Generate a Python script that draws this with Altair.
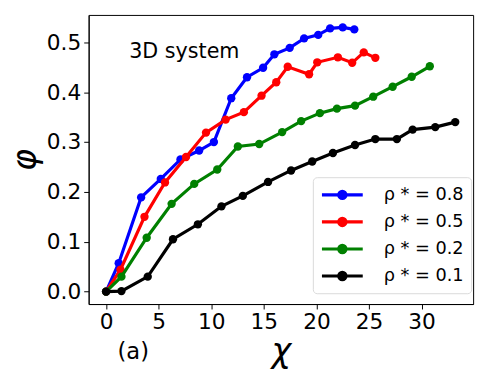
import altair as alt
import pandas as pd

labels = ["ρ * = 0.8", "ρ * = 0.5", "ρ * = 0.2", "ρ * = 0.1"]
colors = ["#0000ff", "#ff0000", "#008000", "#000000"]

blue_x = [0, 1.2, 3.33, 5.2, 7.07, 8.85, 10.25, 11.9, 13.4, 14.93, 16.0, 17.46, 18.83, 20.17, 21.3, 22.5, 23.6]
blue_y = [0, 0.057, 0.189, 0.226, 0.265, 0.283, 0.300, 0.388, 0.430, 0.449, 0.476, 0.489, 0.508, 0.515, 0.528, 0.530, 0.526]

red_x = [0, 1.37, 3.65, 5.6, 7.6, 9.5, 11.37, 13.1, 14.78, 16.18, 17.27, 19.3, 20.08, 22.04, 23.4, 24.5, 25.6]
red_y = [0, 0.044, 0.150, 0.219, 0.270, 0.319, 0.345, 0.360, 0.393, 0.420, 0.451, 0.436, 0.460, 0.470, 0.459, 0.480, 0.469]

green_x = [0, 1.46, 3.86, 6.23, 8.38, 10.57, 12.53, 14.56, 16.74, 18.55, 20.33, 21.95, 23.67, 25.4, 27.25, 29.06, 30.78]
green_y = [0, 0.030, 0.108, 0.176, 0.216, 0.245, 0.291, 0.296, 0.320, 0.342, 0.358, 0.367, 0.373, 0.391, 0.411, 0.431, 0.452]

black_x = [0, 1.46, 3.96, 6.36, 8.73, 10.97, 13.0, 15.4, 17.59, 19.6, 21.57, 23.67, 25.6, 27.65, 29.15, 31.3, 33.2]
black_y = [0, 0.001, 0.030, 0.105, 0.135, 0.171, 0.192, 0.220, 0.243, 0.261, 0.278, 0.294, 0.306, 0.306, 0.325, 0.330, 0.340]

xs = [blue_x, red_x, green_x, black_x]
ys = [blue_y, red_y, green_y, black_y]

x_ticks = [0, 5, 10, 15, 20, 25, 30]
y_ticks = [0.0, 0.1, 0.2, 0.3, 0.4, 0.5]

FONT = "DejaVu Sans"

x_scale = alt.Scale(domain=[-1.66, 34.9], nice=False, zero=False)
y_scale = alt.Scale(domain=[-0.025, 0.555], nice=False, zero=False)
color_scale = alt.Scale(domain=labels, range=colors)

legend_path = "M-2.25,0L2.25,0M-0.4,0A0.4,0.4 0 1,0 0.4,0A0.4,0.4 0 1,0 -0.4,0Z"

x_axis = alt.Axis(values=x_ticks, title="χ", grid=False, labelFontSize=22, labelFont=FONT,
                  titleFont=FONT, titleFontSize=34, titleFontStyle="italic", titleFontWeight="normal",
                  labelColor="black", titleColor="black", domainColor="black", tickColor="black",
                  tickSize=5, labelPadding=3, titlePadding=2, labelFlush=False)
y_axis = alt.Axis(values=y_ticks, format=".1f", title="φ", grid=False, labelFontSize=22, labelFont=FONT,
                  titleFont=FONT, titleFontSize=34, titleFontStyle="italic", titleFontWeight="normal",
                  labelColor="black", titleColor="black", domainColor="black", tickColor="black",
                  tickSize=5, labelPadding=3, titlePadding=4, labelFlush=False)

legend = alt.Legend(title=None, orient="none", legendX=228, legendY=165, symbolType=legend_path,
                    symbolSize=340, symbolStrokeWidth=3.2, labelFontSize=18, labelFont=FONT,
                    labelColor="black", rowPadding=5.5, symbolOffset=12, labelOffset=31,
                    padding=7, strokeColor="#d9d9d9", fillColor="white", cornerRadius=4,
                    symbolOpacity=1)

layers = []
for i, lab in enumerate(labels):
    df = pd.DataFrame({"chi": xs[i], "phi": ys[i], "series": lab})
    base = alt.Chart(df).encode(
        x=alt.X("chi:Q", scale=x_scale, axis=x_axis),
        y=alt.Y("phi:Q", scale=y_scale, axis=y_axis),
    )
    layers.append(base.mark_line(strokeWidth=3.2).encode(
        stroke=alt.Stroke("series:N", scale=color_scale, legend=legend)))
    layers.append(base.mark_point(filled=True, opacity=1, size=72, shape="circle").encode(
        fill=alt.Fill("series:N", scale=color_scale, legend=legend),
        stroke=alt.Stroke("series:N", scale=color_scale, legend=legend),
        strokeWidth=alt.value(0),
    ))

ann = pd.DataFrame({"chi": [2.2, 1.08], "phi": [0.48, -0.122], "txt": ["3D system", "(a)"]})
text1 = alt.Chart(ann.iloc[[0]]).mark_text(align="left", baseline="middle", font=FONT, fontSize=21,
                                           color="black").encode(
    x=alt.X("chi:Q", scale=x_scale), y=alt.Y("phi:Q", scale=y_scale), text="txt:N")
text2 = alt.Chart(ann.iloc[[1]]).mark_text(align="left", baseline="middle", font=FONT, fontSize=23,
                                           color="black").encode(
    x=alt.X("chi:Q", scale=x_scale), y=alt.Y("phi:Q", scale=y_scale), text="txt:N")

chart = alt.layer(*layers, text1, text2).properties(
    width=391, height=294,
    padding={"left": 82, "top": 4, "right": 8, "bottom": 64},
    autosize=alt.AutoSizeParams(type="none"),
).configure_view(stroke="black", strokeWidth=1)

chart.save("out.html", embed_options={"renderer": "svg", "actions": False})
